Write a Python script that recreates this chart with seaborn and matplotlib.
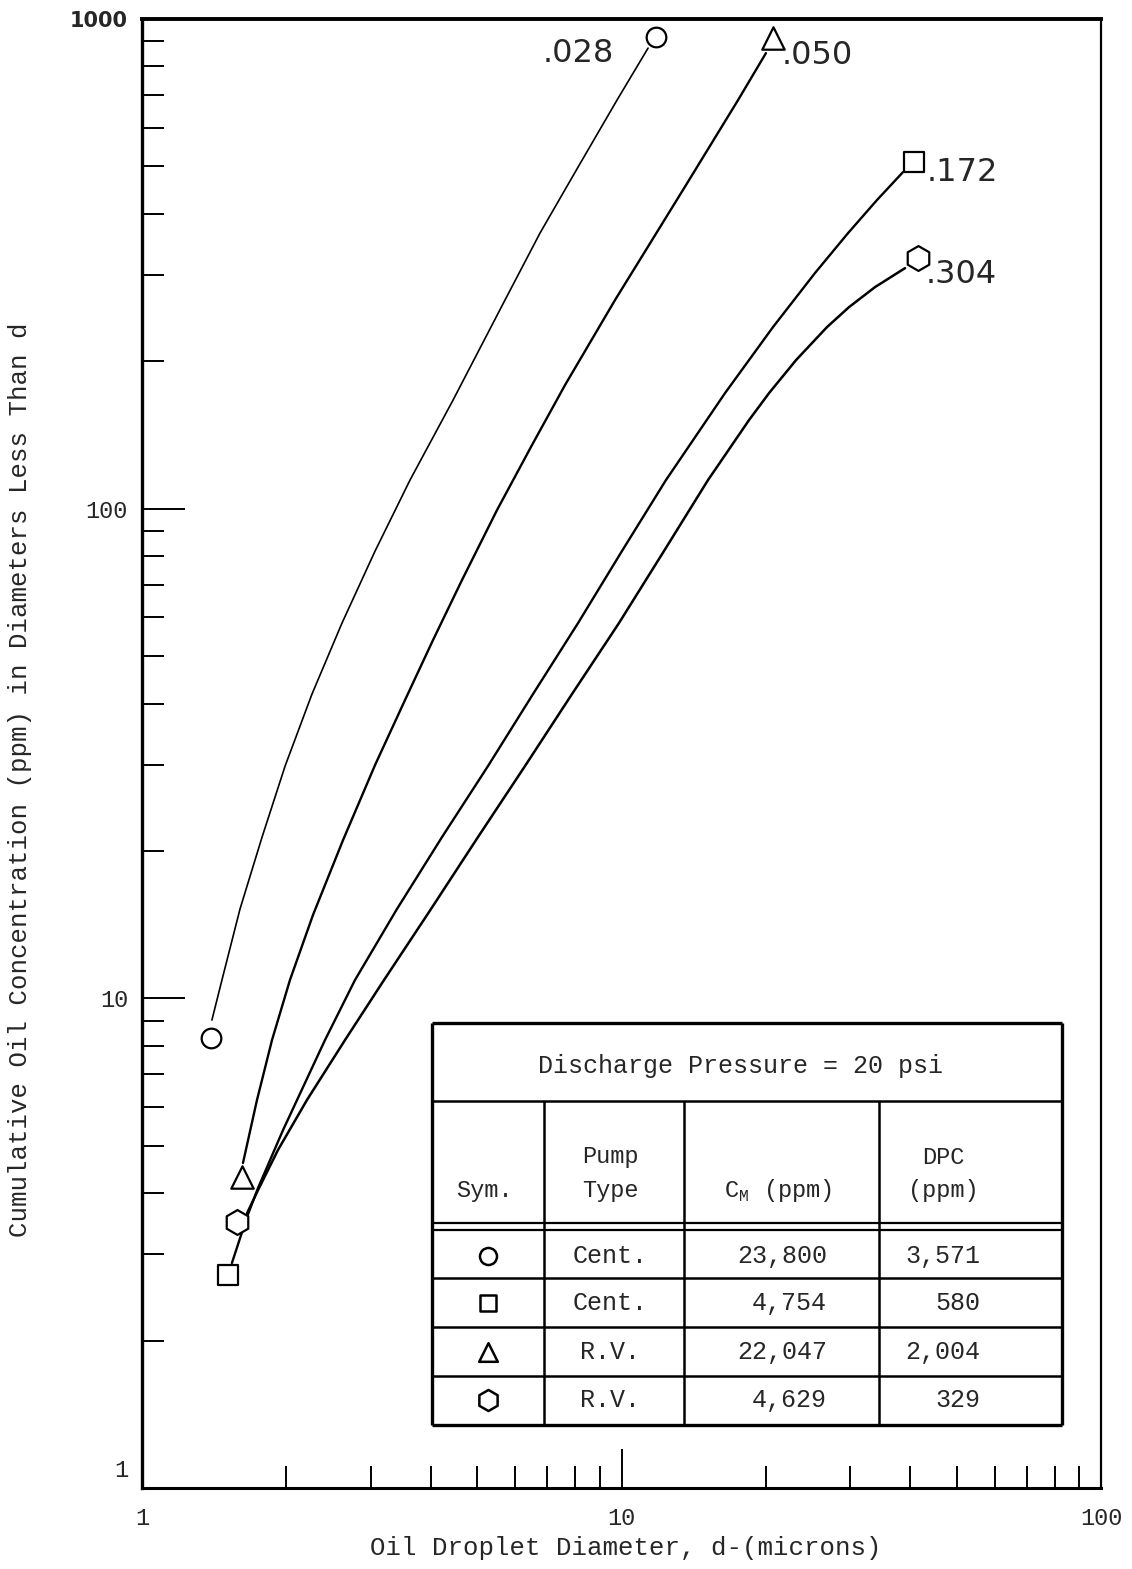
import numpy as np
import pandas as pd
import matplotlib
matplotlib.use('Agg')
import matplotlib.pyplot as plt
import matplotlib.transforms as mtrans
from matplotlib.ticker import NullFormatter, FixedLocator
import seaborn as sns

# curve readings, diameter (microns) vs cumulative conc (ppm)
d_028 = [1.399, 1.468, 1.601, 1.780, 1.988, 2.262, 2.613, 3.062, 3.622, 4.453, 5.715, 6.761, 8.118, 9.786, 11.36]
c_028 = [9.03, 10.90, 15.22, 21.35, 29.81, 41.82, 58.41, 81.91, 114.4, 166.6, 266.7, 365.4, 498.5, 682.9, 872.0]

d_050 = [1.624, 1.737, 1.867, 2.035, 2.273, 2.626, 3.062, 3.536, 4.045, 4.649, 5.500, 6.507, 7.624,
         9.693, 11.58, 13.63, 17.50, 20.01]
c_050 = [4.61, 6.20, 8.22, 10.90, 14.80, 21.05, 29.95, 40.66, 53.91, 71.49, 99.34, 134.9, 178.8,
         266.7, 353.6, 458.0, 682.9, 851.8]

d_172 = [1.540, 1.656, 1.746, 1.968, 2.408, 2.781, 3.402, 4.224, 5.267, 6.538, 8.118, 10.02, 12.38,
         16.44, 20.70, 25.32, 29.68, 34.10, 38.65]
c_172 = [2.88, 3.58, 4.10, 5.38, 8.22, 10.90, 15.22, 21.35, 29.81, 41.82, 58.41, 81.91, 114.4,
         172.2, 234.9, 302.8, 365.4, 426.8, 486.9]

d_304 = [1.656, 1.746, 1.921, 2.208, 2.651, 3.197, 4.006, 5.020, 6.291, 7.884, 9.881, 12.26, 15.15,
         18.45, 20.31, 23.12, 26.83, 29.82, 33.79, 39.02]
c_304 = [3.64, 4.06, 4.90, 6.20, 8.22, 10.90, 15.22, 21.35, 29.81, 41.82, 58.41, 81.91, 114.4,
         151.7, 172.2, 201.1, 234.9, 258.0, 283.5, 309.9]

# end point symbols (start, end)
end_d_028 = [1.393, 11.80]
end_c_028 = [8.30, 918]
end_d_050 = [1.616, 20.7]
end_c_050 = [4.32, 914]
end_d_172 = [1.512, 40.74]
end_c_172 = [2.72, 510]
end_d_304 = [1.578, 41.53]
end_c_304 = [3.49, 325]

curve_labels = ['.028', '.050', '.172', '.304']
curve_markers = ['o', '^', 's', 'h']

# inset table
table_title = 'Discharge Pressure = 20 psi'
table_sym = ['o', 's', '^', 'h']
pump_type = ['Cent.', 'Cent.', 'R.V.', 'R.V.']
cm_ppm = ['23,800', '4,754', '22,047', '4,629']
dpc_ppm = ['3,571', '580', '2,004', '329']

x_ticks = [1, 10, 100]
y_ticks = [1, 10, 100, 1000]

sns.set_style('white')
mono = 'Liberation Mono'
plt.rcParams['font.family'] = [mono, 'DejaVu Sans']

fig = plt.figure(figsize=(11.32, 15.69), dpi=100)
ax = fig.add_axes([142 / 1132, 81 / 1569, 959 / 1132, 1469 / 1569])
ax.set_xscale('log')
ax.set_yscale('log')

curves = [(d_028, c_028, end_d_028, end_c_028, 1.2),
          (d_050, c_050, end_d_050, end_c_050, 1.7),
          (d_172, c_172, end_d_172, end_c_172, 1.7),
          (d_304, c_304, end_d_304, end_c_304, 1.8)]
marker_size = {'o': 200, '^': 260, 's': 200, 'h': 320}

for (d, c, ed, ec, lw), mk in zip(curves, curve_markers):
    sns.lineplot(x=d, y=c, sort=False, estimator=None, color='black', lw=lw, ax=ax)
    sns.scatterplot(x=ed, y=ec, marker=mk, s=marker_size[mk], facecolor='white', edgecolor='black',
                    linewidth=1.6, ax=ax, zorder=4)

# curve labels at the upper end symbols
label_offsets = [(-42, -16, 'right'), (9, -17, 'left'), (13, -10, 'left'), (8, -16, 'left')]
for lab, (d, c, ed, ec, lw), (dx, dy, ha) in zip(curve_labels, curves, label_offsets):
    ax.annotate(lab, xy=(ed[1], ec[1]), xytext=(dx, dy), textcoords='offset pixels',
                ha=ha, va='center', fontsize=23, family='DejaVu Sans')

ax.set_xlim(1, 100)
ax.set_ylim(1, 1000)

ax.xaxis.set_major_locator(FixedLocator(x_ticks))
ax.yaxis.set_major_locator(FixedLocator(y_ticks))
ax.set_xticklabels([str(t) for t in x_ticks], fontsize=17)
ax.set_yticklabels([str(t) for t in y_ticks], fontsize=17)
ax.xaxis.set_minor_formatter(NullFormatter())
ax.yaxis.set_minor_formatter(NullFormatter())
ax.tick_params(which='both', direction='in', bottom=True, left=True, top=False, right=False,
               color='black', width=1.4)
ax.tick_params(axis='x', which='major', length=28, pad=14)
ax.tick_params(axis='x', which='minor', length=16)
ax.tick_params(axis='y', which='major', length=31, pad=10)
ax.tick_params(axis='y', which='minor', length=16)
for t in ax.get_yticklabels():
    if t.get_text() == '1000':
        t.set_family('DejaVu Sans')
        t.set_fontweight('bold')
        t.set_fontsize(15)

# the "1" on the y axis sits a little above the corner
one = ax.yaxis.get_major_ticks()[0].label1
one.set_transform(one.get_transform() + mtrans.ScaledTranslation(0, 0.2, fig.dpi_scale_trans))

for side, w in [('left', 2.4), ('bottom', 2.2), ('top', 2.8), ('right', 1.6)]:
    ax.spines[side].set_visible(True)
    ax.spines[side].set_linewidth(w)
    ax.spines[side].set_color('black')

fig.text(626 / 1132, 1 - 1548 / 1569, 'Oil Droplet Diameter, d-(microns)',
         ha='center', va='center', fontsize=18.5)
fig.text(20 / 1132, 1 - 780 / 1569, 'Cumulative Oil Concentration (ppm) in Diameters Less Than d',
         ha='center', va='center', rotation=90, fontsize=18.5)

# table drawn in its own pixel-sized axes
tx0, tx1, ty0, ty1 = 432, 1062, 1023, 1425
tab = fig.add_axes([tx0 / 1132, 1 - ty1 / 1569, (tx1 - tx0) / 1132, (ty1 - ty0) / 1569])
tab.set_xlim(tx0, tx1)
tab.set_ylim(ty1, ty0)
tab.axis('off')
tab.patch.set_alpha(0)

def hline(y, lw=1.8):
    tab.plot([tx0, tx1], [y, y], color='black', lw=lw, clip_on=False, solid_capstyle='butt')

def vline(x, y0, y1, lw=1.8):
    tab.plot([x, x], [y0, y1], color='black', lw=lw, clip_on=False, solid_capstyle='butt')

hline(ty0, 2.4)
hline(ty1, 2.4)
vline(tx0, ty0, ty1, 2.4)
vline(tx1, ty0, ty1, 2.4)
hline(1101)
hline(1223, 1.6)
hline(1230, 1.6)
for y in [1278, 1327, 1376]:
    hline(y)
col_x = [544, 684, 879]
for x in col_x:
    vline(x, 1101, ty1)

fs = 18
tab.text(740, 1066, table_title, ha='center', va='center', fontsize=fs)
tab.text(484, 1190, 'Sym.', ha='center', va='center', fontsize=17)
tab.text(610, 1157, 'Pump', ha='center', va='center', fontsize=17)
tab.text(610, 1190, 'Type', ha='center', va='center', fontsize=17)
tab.text(778, 1190, r'C$_{\mathregular{M}}$ (ppm)', ha='center', va='center', fontsize=17)
tab.text(943, 1157, 'DPC', ha='center', va='center', fontsize=17)
tab.text(943, 1190, '(ppm)', ha='center', va='center', fontsize=17)

row_y = [1256, 1303, 1352, 1400]
tab_marker_size = {'o': 150, 's': 140, '^': 180, 'h': 230}
for y, mk, pt, cm, dpc in zip(row_y, table_sym, pump_type, cm_ppm, dpc_ppm):
    sns.scatterplot(x=[488], y=[y], marker=mk, s=tab_marker_size[mk], facecolor='white',
                    edgecolor='black', linewidth=1.8, ax=tab, clip_on=False)
    tab.text(610, y, pt, ha='center', va='center', fontsize=fs)
    tab.text(827, y, cm, ha='right', va='center', fontsize=fs)
    tab.text(980, y, dpc, ha='right', va='center', fontsize=fs)
tab.set_xlim(tx0, tx1)
tab.set_ylim(ty1, ty0)

fig.savefig('out.png', dpi=100)
